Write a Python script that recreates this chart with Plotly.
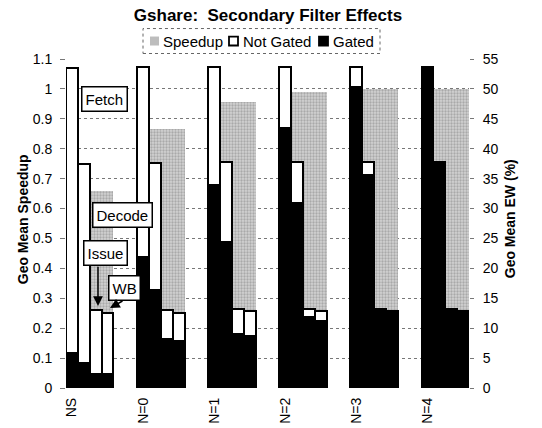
import plotly.graph_objects as go

# ---------------- data ----------------
configs = ["NS", "N=0", "N=1", "N=2", "N=3", "N=4"]
stages = ["Fetch", "Decode", "Issue", "WB"]
speedup = [0.66, 0.865, 0.956, 0.989, 0.999, 0.999]
ew_not_gated = [
    [53.5, 37.5, 13.0, 12.6],
    [53.7, 37.6, 13.0, 12.6],
    [53.7, 37.8, 13.2, 12.8],
    [53.7, 37.8, 13.2, 12.8],
    [53.7, 37.8, 13.2, 12.8],
    [53.7, 37.8, 13.2, 12.8],
]
ew_gated = [
    [5.8, 4.2, 2.4, 2.3],
    [21.9, 16.4, 8.2, 7.9],
    [33.9, 24.4, 9.1, 8.7],
    [43.4, 30.9, 11.8, 11.2],
    [50.4, 35.6, 13.2, 12.8],
    [53.7, 37.8, 13.2, 12.8],
]

# ---------------- layout helpers ----------------
W, H = 542, 428
L, R, T, B = 66, 469, 58.5, 388
SLOTS = 6  # 4 stage bars + 2 empty slots per group
FONT = "Liberation Sans, Arial, Helvetica, sans-serif"


def px(p):
    return (p - L) / (R - L)


def py(p):
    return (B - p) / (B - T)


xs, ng, g = [], [], []
for gi, cfg in enumerate(configs):
    for k, st in enumerate(stages):
        xs.append(gi * SLOTS + k)
        ng.append(ew_not_gated[gi][k])
        g.append(ew_gated[gi][k])
sp_x = [gi * SLOTS + (len(stages) - 1) / 2 for gi in range(len(configs))]

fig = go.Figure()
fig.add_trace(go.Bar(
    x=sp_x, y=speedup, width=len(stages), name="Speedup", yaxis="y",
    marker=dict(color="#c8c8c8", line=dict(width=0),
                pattern=dict(shape=".", fgcolor="#808080", bgcolor="#d2d2d2",
                             size=3, solidity=0.45)),
    showlegend=False,
))
fig.add_trace(go.Bar(
    x=xs, y=ng, width=1, name="Not Gated", yaxis="y2",
    marker=dict(color="white", line=dict(color="black", width=2)),
    showlegend=False,
))
fig.add_trace(go.Bar(
    x=xs, y=g, width=1, name="Gated", yaxis="y2",
    marker=dict(color="black", line=dict(color="black", width=2)),
    showlegend=False,
))

shapes = []
annos = []

# legend (drawn manually)
shapes.append(dict(type="rect", xref="paper", yref="paper",
                   x0=px(143), x1=px(380), y0=py(53), y1=py(28),
                   line=dict(color="#666", width=1, dash="dot"), fillcolor="white",
                   layer="above"))
leg = [("Speedup", 150, "#bdbdbd", "#bdbdbd", 161),
       ("Not Gated", 229, "white", "black", 241),
       ("Gated", 319, "black", "black", 331)]
for name, sx, fc, lc, tx in leg:
    shapes.append(dict(type="rect", xref="paper", yref="paper",
                       x0=px(sx), x1=px(sx + 9), y0=py(45), y1=py(36),
                       line=dict(color=lc, width=1.8 if lc == "black" else 0),
                       fillcolor=fc, layer="above"))
    annos.append(dict(text=name, xref="paper", yref="paper", x=px(tx), y=py(40.5),
                      xanchor="left", yanchor="middle", showarrow=False,
                      font=dict(family=FONT, size=15, color="black")))

# axis titles
annos.append(dict(text="<b>Geo Mean Speedup</b>", xref="paper", yref="paper",
                  x=px(23), y=py(219), textangle=-90, showarrow=False,
                  xanchor="center", yanchor="middle",
                  font=dict(family=FONT, size=14, color="black")))
annos.append(dict(text="<b>Geo Mean EW (%)</b>", xref="paper", yref="paper",
                  x=px(510), y=py(219), textangle=-90, showarrow=False,
                  xanchor="center", yanchor="middle",
                  font=dict(family=FONT, size=14, color="black")))

# stage labels on NS group
def dx(p):
    return (p - L) / ((R - L) / (SLOTS * (len(configs) - 1) + len(stages))) - 0.5


def dy(p):
    return (B - p) / (B - T) * 1.1


box = dict(showarrow=False, bgcolor="white", bordercolor="black", borderwidth=1.5,
           borderpad=3, font=dict(family=FONT, size=15, color="black"),
           xref="x", yref="y", xanchor="center", yanchor="middle")
for txt, cx, cy in [("Fetch", 104, 99), ("Decode", 122, 215), ("Issue", 105, 253), ("WB", 124, 288)]:
    a = dict(box)
    a.update(text=txt, x=dx(cx), y=dy(cy))
    annos.append(a)

for (tx0, ty0), (tx1, ty1) in [((98, 265), (98, 306)), ((124, 300), (110, 308))]:
    annos.append(dict(text="", x=dx(tx1), y=dy(ty1), ax=dx(tx0), ay=dy(ty0),
                      xref="x", yref="y", axref="x", ayref="y", showarrow=True,
                      arrowhead=2, arrowsize=1.3, arrowwidth=1.5, arrowcolor="black"))

fig.update_layout(
    width=W, height=H,
    margin=dict(l=L, r=W - R, t=T, b=H - B, pad=0),
    paper_bgcolor="white", plot_bgcolor="white",
    barmode="overlay", bargap=0,
    showlegend=False,
    font=dict(family=FONT, size=14, color="black"),
    title=dict(text="<b>Gshare:\u00a0 Secondary Filter Effects</b>",
               x=268 / W, xref="container", xanchor="center",
               y=1 - 15 / H, yref="container", yanchor="middle",
               font=dict(family=FONT, size=17, color="black")),
    xaxis=dict(range=[-0.5, SLOTS * (len(configs) - 1) + len(stages) - 0.5],
               tickmode="array",
               tickvals=[gi * SLOTS for gi in range(len(configs))],
               ticktext=configs, tickangle=-90, showgrid=False, zeroline=False,
               showline=False, ticks="", automargin=False, ticklabelstandoff=6,
               tickfont=dict(family=FONT, size=14)),
    yaxis=dict(range=[0, 1.1], dtick=0.1, tick0=0, showgrid=True,
               gridcolor="#777", griddash="dot", gridwidth=1, zeroline=False,
               showline=False, ticks="outside", ticklen=5, tickcolor="#777",
               automargin=False, ticklabelstandoff=5,
               tickfont=dict(family=FONT, size=14)),
    yaxis2=dict(range=[0, 55], dtick=5, tick0=0, overlaying="y", side="right",
                showgrid=False, zeroline=False, showline=False, ticks="outside",
                ticklen=4, tickcolor="#777", automargin=False, ticklabelstandoff=6,
                tickfont=dict(family=FONT, size=14)),
    shapes=shapes, annotations=annos,
)

fig.write_html("out.html")
